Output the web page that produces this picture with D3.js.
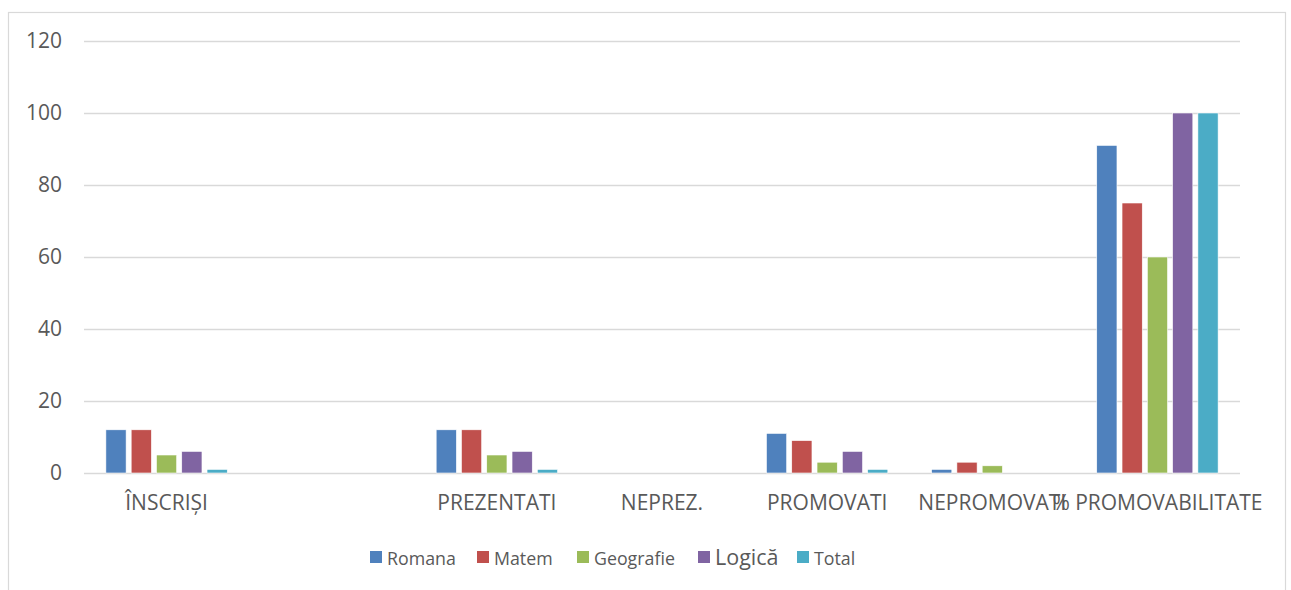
<!DOCTYPE html>
<html><head><meta charset="utf-8">
<script src="https://cdn.jsdelivr.net/npm/d3@7"></script>
<style>
html,body{margin:0;padding:0;background:#fff;}
svg{display:block;font-family:"Open Sans",sans-serif;}
</style></head>
<body><svg id="chart" width="1291" height="590"></svg>
<script>
const categories = ["ÎNSCRIȘI", "", "PREZENTATI", "NEPREZ.", "PROMOVATI", "NEPROMOVATI", "% PROMOVABILITATE"];
const seriesNames = ["Romana", "Matem", "Geografie", "Logică", "Total"];
const romana    = [12, 0, 12, 0, 11, 1, 91];
const matem     = [12, 0, 12, 0, 9, 3, 75];
const geografie = [5, 0, 5, 0, 3, 2, 60];
const logica    = [6, 0, 6, 0, 6, 0, 100];
const total     = [1, 0, 1, 0, 1, 0, 100];
const yTicks = [0, 20, 40, 60, 80, 100, 120];
const colors = ["#4F81BD", "#C0504D", "#9BBB59", "#8064A2", "#4BACC6"];

const seriesValues = [romana, matem, geografie, logica, total];

(function () {
const svg = d3.select("#chart");
const pLeft = 84, pRight = 1240, pTop = 41, pBottom = 473;
const textColor = "#595959", gridColor = "#d9d9d9";

// outer border
svg.append("rect").attr("x", 8.5).attr("y", 12.5).attr("width", 1277).attr("height", 600)
  .attr("fill", "none").attr("stroke", gridColor).attr("stroke-width", 1.2);

const y = d3.scaleLinear().domain([0, 120]).range([pBottom, pTop]);
const x0 = d3.scaleBand().domain(d3.range(categories.length)).range([pLeft, pRight]).padding(0);
const groupW = x0.bandwidth() * 0.735;
const off = (x0.bandwidth() - groupW) / 2;
const x1 = d3.scaleBand().domain(d3.range(seriesNames.length)).range([off, off + groupW]).paddingInner(0.2).paddingOuter(0);

// gridlines
const yAxis = d3.axisLeft(y).tickValues(yTicks).tickSize(-(pRight - pLeft)).tickPadding(22);
const gy = svg.append("g").attr("transform", `translate(${pLeft},0)`).call(yAxis);
gy.select(".domain").remove();
gy.selectAll(".tick line").attr("stroke", gridColor).attr("stroke-width", 1.3);
gy.selectAll(".tick text").attr("fill", textColor).style("font-size", "21px")
  .style("font-family", "'Open Sans',sans-serif");

// bars
const groups = svg.append("g").selectAll("g").data(categories.map((c, i) => i)).join("g")
  .attr("transform", i => `translate(${x0(i)},0)`);
groups.selectAll("rect").data(i => seriesValues.map((s, k) => ({k, v: s[i]}))).join("rect")
  .attr("x", d => x1(d.k)).attr("width", x1.bandwidth())
  .attr("y", d => y(d.v)).attr("height", d => y(0) - y(d.v))
  .attr("fill", d => colors[d.k]).attr("stroke", "#ffffff").attr("stroke-width", 0.6);

// x axis labels
const xAxis = d3.axisBottom(x0).tickSize(0).tickPadding(22).tickFormat(i => categories[i]);
const gx = svg.append("g").attr("transform", `translate(0,${pBottom})`).call(xAxis);
gx.select(".domain").remove();
gx.selectAll(".tick text").attr("fill", textColor).style("font-size", "21px")
  .style("font-family", "'Open Sans',sans-serif");

// legend
const legendX = [370, 477, 577, 698, 797];
const leg = svg.append("g").selectAll("g").data(seriesNames).join("g")
  .attr("transform", (d, i) => `translate(${legendX[i]},0)`);
leg.append("rect").attr("x", 0).attr("y", 551).attr("width", 12).attr("height", 12)
  .attr("fill", (d, i) => colors[i]);
leg.append("text").attr("x", 17).attr("y", 564.5).text(d => d)
  .attr("fill", textColor)
  .style("font-size", (d, i) => i === 3 ? "21.5px" : "17.8px");
})();
</script>
</body></html>
